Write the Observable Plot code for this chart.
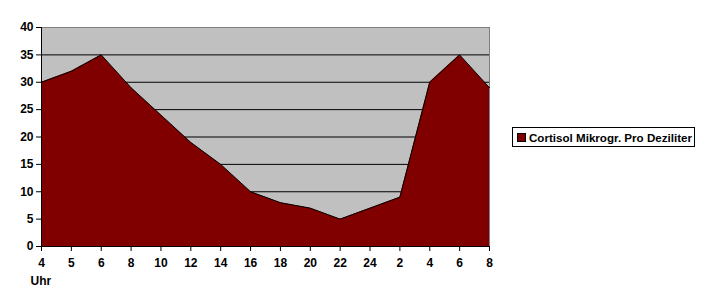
<!DOCTYPE html>
<html>
<head>
<meta charset="utf-8">
<script src="https://cdn.jsdelivr.net/npm/d3@7"></script>
<script src="https://cdn.jsdelivr.net/npm/@observablehq/plot@0.6"></script>
<style>
  html, body { margin: 0; padding: 0; background: white; }
  #wrap { position: relative; width: 707px; height: 307px; }
  #legend {
    position: absolute; left: 512px; top: 127px; width: 183px; height: 20px;
    border: 1px solid black; background: white; box-sizing: border-box;
    font-family: "Liberation Sans", Arial, sans-serif; font-weight: bold; font-size: 11.6px;
    display: flex; align-items: center; white-space: nowrap;
  }
  #legend .sw { width: 7px; height: 7px; background: #800000; border: 1px solid black; margin-left: 4px; margin-right: 3px; flex: none; }
</style>
</head>
<body>
<div id="wrap"></div>
<script>
const hourLabels = ["4","5","6","8","10","12","14","16","18","20","22","24","2","4","6","8"];
const cortisol = [30,32,35,29,24,19,15,10,8,7,5,7,9,30,35,29];
const seriesName = "Cortisol Mikrogr. Pro Deziliter";
const yTicks = [0,5,10,15,20,25,30,35,40];
const xAxisLabel = "Uhr";

const data = cortisol.map((v, i) => ({i, v}));

const chart = Plot.plot({
  width: 707,
  height: 307,
  marginLeft: 41,
  marginRight: 218,
  marginTop: 27,
  marginBottom: 61,
  style: {fontFamily: "'Liberation Sans', Arial, sans-serif", fontSize: "12px", fontWeight: "bold", background: "white", color: "black", overflow: "visible"},
  x: {type: "linear", domain: [0, hourLabels.length - 1], label: null},
  y: {domain: [0, 40], label: null},
  marks: [
    Plot.frame({fill: "#c0c0c0", stroke: "#808080"}),
    Plot.ruleY(yTicks.filter(t => t > 0 && t < 40), {stroke: "black", strokeWidth: 1}),
    Plot.areaY(data, {x: "i", y: "v", fill: "#800000"}),
    Plot.lineY(data, {x: "i", y: "v", stroke: "black", strokeWidth: 1}),
    Plot.ruleX([0], {stroke: "black"}),
    Plot.ruleY([0], {stroke: "black"}),
    Plot.axisY({ticks: yTicks, tickSize: 5, tickPadding: 3, fontSize: 12, fontWeight: "bold", fill: "black", stroke: "black"}),
    Plot.axisX({ticks: d3.range(hourLabels.length), tickFormat: i => hourLabels[i], tickSize: 5, tickPadding: 7, fontSize: 12, fontWeight: "bold", fill: "black", stroke: "black"}),
    Plot.text([xAxisLabel], {x: 0, y: 0, dx: -11, dy: 35, textAnchor: "start", fontSize: 12, fontWeight: "bold", fill: "black"})
  ]
});

const wrap = document.getElementById("wrap");
wrap.appendChild(chart);
const legend = document.createElement("div");
legend.id = "legend";
legend.innerHTML = `<span class="sw"></span><span>${seriesName}</span>`;
wrap.appendChild(legend);
</script>
</body>
</html>
